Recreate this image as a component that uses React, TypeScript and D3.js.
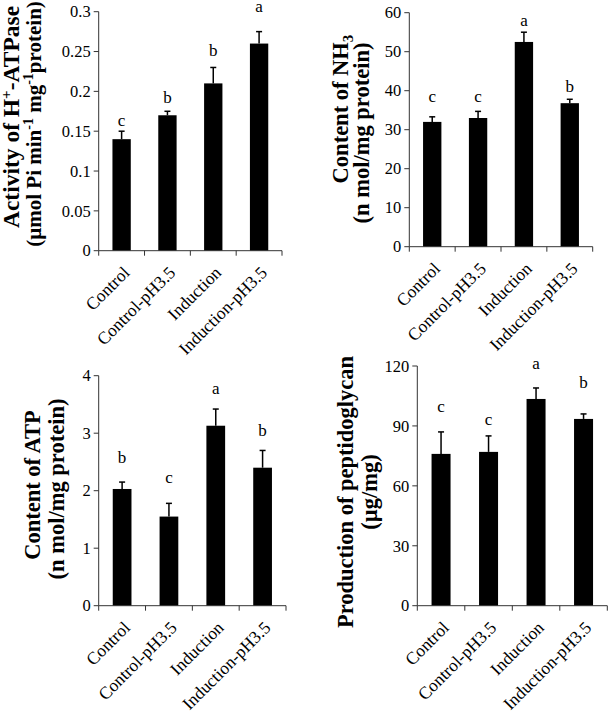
import React from 'react';
import * as d3 from 'd3';

const categories = ['Control', 'Control-pH3.5', 'Induction', 'Induction-pH3.5'];

const atpaseMean = [0.14, 0.17, 0.21, 0.26];
const atpaseErr = [0.01, 0.005, 0.02, 0.015];
const atpaseLetters = ['c', 'b', 'b', 'a'];
const atpaseLetterAt = [0.156, 0.185, 0.244, 0.3];
const atpaseTicks = [0, 0.05, 0.1, 0.15, 0.2, 0.25, 0.3];

const nh3Mean = [32, 33, 52.5, 36.8];
const nh3Err = [1.3, 1.7, 2.5, 1.0];
const nh3Letters = ['c', 'c', 'a', 'b'];
const nh3LetterAt = [37.2, 37.2, 56.6, 39.7];
const nh3Ticks = [0, 10, 20, 30, 40, 50, 60];

const atpMean = [2.03, 1.55, 3.13, 2.4];
const atpErr = [0.12, 0.23, 0.29, 0.3];
const atpLetters = ['b', 'c', 'a', 'b'];
const atpLetterAt = [2.49, 2.14, 3.69, 2.95];
const atpTicks = [0, 1, 2, 3, 4];

const pgMean = [76, 77, 103.5, 93.5];
const pgErr = [11, 8, 5.5, 2.5];
const pgLetters = ['c', 'c', 'a', 'b'];
const pgLetterAt = [97.1, 90.5, 118.3, 108.8];
const pgTicks = [0, 30, 60, 90, 120];

const SERIF = '"Liberation Serif", "Times New Roman", serif';

type Seg = { t: string; shift?: number };
type LabelLine = { segs: Seg[]; x: number; cy: number; size: number };

type PanelCfg = {
  x0: number; x1: number; yTop: number; yBot: number;
  max: number; ticks: number[];
  mean: number[]; err: number[]; letters: string[]; letterAt: number[];
  label: LabelLine[];
};

function Panel({ cfg }: { cfg: PanelCfg }) {
  const { x0, x1, yTop, yBot, max, ticks, mean, err, letters, letterAt, label } = cfg;
  const y = d3.scaleLinear().domain([0, max]).range([yBot, yTop]);
  const slots = d3.scaleBand<string>().domain(categories).range([x0, x1]).padding(0);
  const bars = d3.scaleBand<string>().domain(categories).range([x0, x1]).paddingInner(0.6).paddingOuter(0.3);
  const bw = bars.bandwidth();
  const bounds = [...categories.map((c) => slots(c) as number), x1];
  const axisColor = '#333';
  return (
    <g>
      {categories.map((c, i) => {
        const bx = bars(c) as number;
        const cx = bx + bw / 2;
        const top = y(mean[i]);
        const et = y(mean[i] + err[i]);
        return (
          <g key={c}>
            <line x1={cx} x2={cx} y1={top} y2={et} stroke="#000" strokeWidth={1.5} />
            <line x1={cx - 3} x2={cx + 3} y1={et} y2={et} stroke="#000" strokeWidth={1.5} />
            <rect x={bx} y={top} width={bw} height={yBot - top} fill="#000" />
            <text x={cx} y={y(letterAt[i])} textAnchor="middle" fontFamily={SERIF} fontSize={17} fill="#000">{letters[i]}</text>
          </g>
        );
      })}
      <line x1={x0} x2={x0} y1={yTop} y2={yBot} stroke={axisColor} strokeWidth={1} />
      {ticks.map((t) => (
        <g key={t}>
          <line x1={x0 - 5} x2={x0} y1={y(t)} y2={y(t)} stroke={axisColor} strokeWidth={1} />
          <text x={x0 - 8} y={y(t)} dy="0.35em" textAnchor="end" fontFamily={SERIF} fontSize={16.5} fill="#000">{String(t)}</text>
        </g>
      ))}
      <line x1={x0} x2={x1} y1={yBot} y2={yBot} stroke={axisColor} strokeWidth={1} />
      {bounds.map((bx, i) => (
        <line key={i} x1={bx} x2={bx} y1={yBot} y2={yBot + 5} stroke={axisColor} strokeWidth={1} />
      ))}
      {categories.map((c) => {
        const cx = (slots(c) as number) + slots.bandwidth() / 2;
        return (
          <text key={c} transform={`translate(${cx + 9},${yBot + 23}) rotate(-45)`} textAnchor="end" fontFamily={SERIF} fontSize={17.5} fill="#000">{c}</text>
        );
      })}
      {label.map((ln, k) => (
        <text key={k} transform={`translate(${ln.x},${ln.cy}) rotate(-90)`} textAnchor="middle" fontFamily={SERIF} fontWeight="bold" fontSize={ln.size} fill="#000">
          {ln.segs.map((s, j) => {
            const prev = j > 0 ? ln.segs[j - 1].shift || 0 : 0;
            const cur = s.shift || 0;
            return (
              <tspan key={j} dy={cur - prev} fontSize={cur !== 0 ? Math.round(ln.size * 0.65) : ln.size}>{s.t}</tspan>
            );
          })}
        </text>
      ))}
    </g>
  );
}

export default function App() {
  const panels: PanelCfg[] = [
    {
      x0: 98.7, x1: 282, yTop: 11.7, yBot: 250.7, max: 0.3, ticks: atpaseTicks,
      mean: atpaseMean, err: atpaseErr, letters: atpaseLetters, letterAt: atpaseLetterAt,
      label: [
        { segs: [{ t: 'Activity of H' }, { t: '+', shift: -8 }, { t: '-ATPase' }], x: 19, cy: 117, size: 23.5 },
        { segs: [{ t: '(µmol Pi min' }, { t: '-1', shift: -8 }, { t: ' mg' }, { t: '-1', shift: -8 }, { t: 'protein)' }], x: 41, cy: 124, size: 21 },
      ],
    },
    {
      x0: 409.3, x1: 592.7, yTop: 12.7, yBot: 246.7, max: 60, ticks: nh3Ticks,
      mean: nh3Mean, err: nh3Err, letters: nh3Letters, letterAt: nh3LetterAt,
      label: [
        { segs: [{ t: 'Content of NH' }, { t: '3', shift: 5 }], x: 348, cy: 109, size: 22.5 },
        { segs: [{ t: '(n mol/mg protein)' }], x: 369, cy: 133, size: 22.5 },
      ],
    },
    {
      x0: 98.7, x1: 286, yTop: 375.7, yBot: 605.7, max: 4, ticks: atpTicks,
      mean: atpMean, err: atpErr, letters: atpLetters, letterAt: atpLetterAt,
      label: [
        { segs: [{ t: 'Content of ATP' }], x: 40, cy: 485, size: 22.5 },
        { segs: [{ t: '(n mol/mg protein)' }], x: 64, cy: 489, size: 22.5 },
      ],
    },
    {
      x0: 417.3, x1: 607.3, yTop: 366, yBot: 605.7, max: 120, ticks: pgTicks,
      mean: pgMean, err: pgErr, letters: pgLetters, letterAt: pgLetterAt,
      label: [
        { segs: [{ t: 'Production of  peptidoglycan' }], x: 353, cy: 492, size: 22.5 },
        { segs: [{ t: '(µg/mg)' }], x: 377, cy: 492, size: 22.5 },
      ],
    },
  ];
  return (
    <svg width={609} height={713} style={{ position: 'absolute', left: 0, top: 0, background: '#fff' }}>
      <rect width={609} height={713} fill="#fff" />
      {panels.map((p, i) => <Panel key={i} cfg={p} />)}
    </svg>
  );
}
